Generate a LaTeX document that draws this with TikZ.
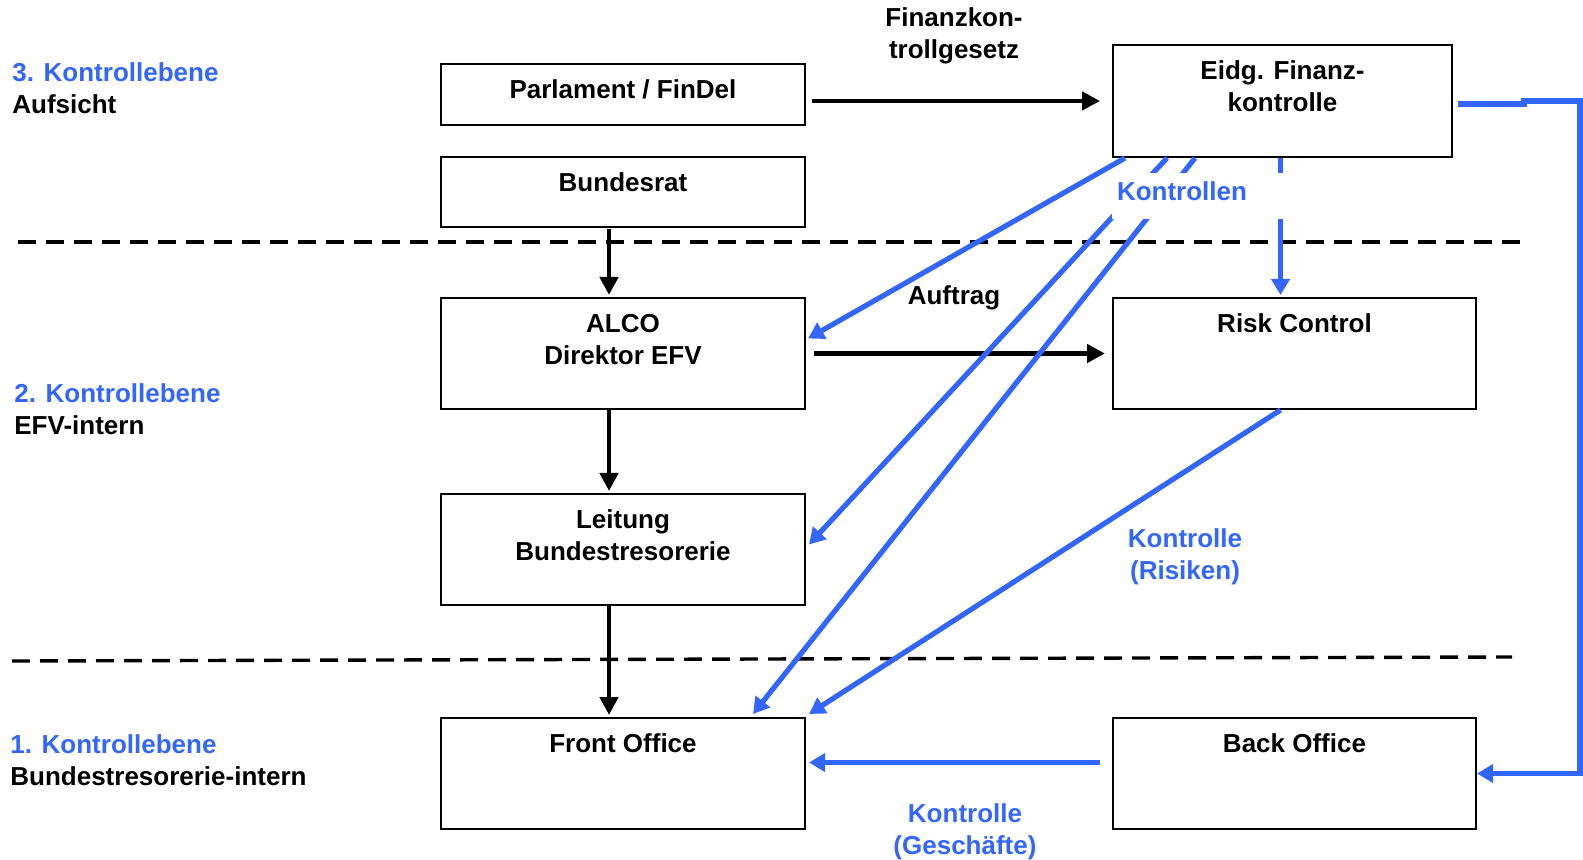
\documentclass[tikz,border=0pt]{standalone}
\usepackage{fontspec}
\setmainfont{Liberation Sans}
\usetikzlibrary{arrows.meta,calc}
\definecolor{ctrlblue}{RGB}{51,102,255}

\begin{document}
\begin{tikzpicture}[x=0.5pt,y=-0.5pt,
  font=\fontsize{13}{16}\selectfont\bfseries,
  box/.style={draw, line width=1pt, minimum width=182pt, minimum height=55.5pt, inner sep=0pt},
  boxtext/.style={anchor=north, align=center, inner sep=0pt},
  level/.style={anchor=north west, align=left, inner sep=0pt},
  blacklink/.style={line width=2.4pt, -{Triangle[length=9pt,width=9pt]}},
  bluelink/.style={ctrlblue, line width=2.6pt, -{Triangle[length=8pt,width=9pt]}},
  bluelabel/.style={ctrlblue, align=center, inner sep=0pt},
  sepline/.style={line width=1.7pt, dash pattern=on 9pt off 5pt}]

\useasboundingbox (0,0) rectangle (1583,860);

% Ebenen
\node[level] (ebene3) at (12,62.5) {\textcolor{ctrlblue}{3. Kontrollebene}\\Aufsicht};
\node[level] (ebene2) at (14,383.5) {\textcolor{ctrlblue}{2. Kontrollebene}\\EFV-intern};
\node[level] (ebene1) at (10,734.5) {\textcolor{ctrlblue}{1. Kontrollebene}\\Bundestresorerie-intern};

\draw[sepline] (18,242) -- (1520,242);
\draw[sepline] (12,661) -- (1512,657);

% Kaesten
\node[box, minimum height=30.5pt] (parl) at (623,94.5) {};
\node[box, minimum height=35pt] (bund) at (623,192) {};
\node[box] (alco) at (623,353.5) {};
\node[box] (leit) at (623,549.5) {};
\node[box] (front) at (623,773.5) {};
\node[box, minimum width=169.5pt, minimum height=56pt] (efk) at (1282.5,101) {};
\node[box, minimum width=181.5pt] (risk) at (1294.5,353.5) {};
\node[box, minimum width=181.5pt] (back) at (1294.5,773.5) {};

\node[boxtext] (parlt) at ([yshift=-8.3pt]parl.north) {Parlament / FinDel};
\node[boxtext] (bundt) at ([yshift=-8.3pt]bund.north) {Bundesrat};
\node[boxtext] (alcot) at ([yshift=-8.3pt]alco.north) {ALCO\\Direktor EFV};
\node[boxtext] (leitt) at ([yshift=-8.3pt]leit.north) {Leitung\\Bundestresorerie};
\node[boxtext] (frontt) at ([yshift=-8.3pt]front.north) {Front Office};
\node[boxtext] (efkt) at ([yshift=-8.3pt]efk.north) {Eidg. Finanz-\\kontrolle};
\node[boxtext] (riskt) at ([yshift=-8.3pt]risk.north) {Risk Control};
\node[boxtext] (backt) at ([yshift=-8.3pt]back.north) {Back Office};

% schwarze Pfeile
\draw[blacklink, shorten <=3pt, shorten >=6pt] (parl.east |- efk.west) -- (efk.west);
\draw[blacklink, shorten <=0.5pt, shorten >=1pt] ([xshift=-7pt]bund.south) -- ([xshift=-7pt]alco.north);
\draw[blacklink, shorten >=1pt] ([xshift=-7pt]alco.south) -- ([xshift=-7pt]leit.north);
\draw[blacklink, shorten >=1pt] ([xshift=-7pt]leit.south) -- ([xshift=-7pt]front.north);
\draw[blacklink, shorten <=4pt, shorten >=3.5pt] (alco.east) -- (risk.west);

\node[boxtext] (gesetz) at (954,7.5) {Finanzkon-\\trollgesetz};
\node[anchor=base, inner sep=0pt] (auftrag) at (954,305) {Auftrag};

% blaue Pfeile
\coordinate (vk) at ($(risk.north)+(-14,0)$);
\coordinate (vr) at ($(risk.south)+(-14,0)$);
\draw[bluelink] ([xshift=6.5pt]efk.south west) -- ($(alco.east)+(2,-15)$);
\draw[bluelink] ([xshift=27.5pt]efk.south west) -- ($(leit.east)+(3,-5)$);
\draw[bluelink] ([xshift=41.5pt]efk.south west) -- ($(front.north east)+(-53,-3)$);
\draw[bluelink, shorten >=1pt] (vk |- efk.south) -- (vk);
\draw[bluelink] (vr) -- ($(front.north east)+(3,-3)$);
\draw[bluelink, shorten <=6pt, shorten >=1.5pt] ($(back.west)+(0,-11)$) -- ($(front.east)+(0,-11)$);
\draw[bluelink, line width=2.6pt] ($(efk.east)+(5,3)$) -- ++(66,0) -- ++(0,-3)
  -| ($(back.east)+(103,0)$) -- (back.east);

% Aussparung fuer die Beschriftung
\fill[white] (1112,173) rectangle (1292,219);
\node[bluelabel, anchor=base] (kontrollen) at (1182,201) {Kontrollen};
\node[bluelabel, anchor=north] (krisiken) at (1185,528.5) {Kontrolle\\(Risiken)};
\node[bluelabel, anchor=north] (kgeschaefte) at (965,803.5) {Kontrolle\\(Geschäfte)};

\end{tikzpicture}
\end{document}
